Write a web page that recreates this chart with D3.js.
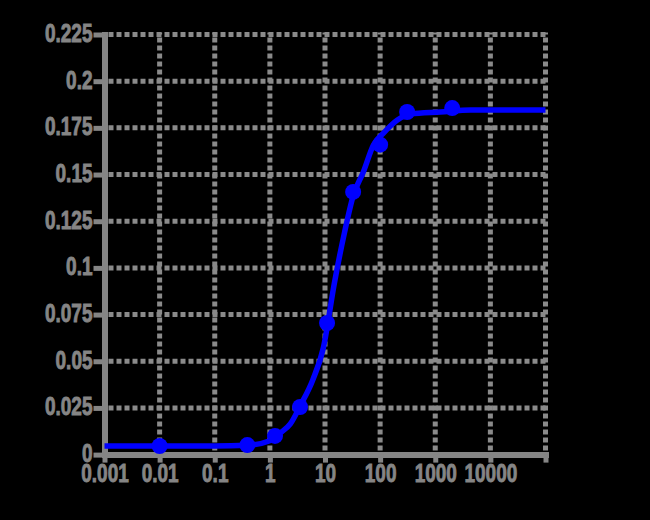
<!DOCTYPE html>
<html>
<head>
<meta charset="utf-8">
<script src="https://cdn.jsdelivr.net/npm/d3@7"></script>
<style>
  html, body { margin: 0; padding: 0; background: #000000; }
  svg { display: block; }
  .tick text { font-family: "Liberation Sans", Arial, sans-serif; font-weight: bold; }
</style>
</head>
<body>
<svg id="chart"></svg>
<script>
// dose response, points + fitted curve
const doses = [0.01, 0.39, 1.24, 3.53, 10.9, 32.4, 100, 309, 2030];
const responses = [0.0046, 0.0051, 0.0100, 0.0255, 0.0705, 0.1407, 0.1660, 0.1835, 0.1856];

const curveX = [0.001, 0.1, 0.386, 0.97, 1.54, 2.35, 3.53, 6.0, 9.4, 14.7, 22.5, 32.4, 49.6, 76, 115, 206, 355, 1240, 4380, 100000];
const curveY = [0.0046, 0.0046, 0.0050, 0.0073, 0.0116, 0.0164, 0.0260, 0.0400, 0.0576, 0.0914, 0.1187, 0.1385, 0.1514, 0.1660, 0.1722, 0.1792, 0.1824, 0.1835, 0.1846, 0.1846];

const xTicks = [0.001, 0.01, 0.1, 1, 10, 100, 1000, 10000, 100000];
const xTickLabels = ["0.001", "0.01", "0.1", "1", "10", "100", "1000", "10000", ""];
const yTicks = [0, 0.025, 0.05, 0.075, 0.1, 0.125, 0.15, 0.175, 0.2, 0.225];
const yTickLabels = ["0", "0.025", "0.05", "0.075", "0.1", "0.125", "0.15", "0.175", "0.2", "0.225"];

const width = 650;
const height = 520;
const marginLeft = 104.5;
const marginRight = 104.5;
const marginTop = 34.5;
const marginBottom = 65.4;

const gray = "#858585";
const gridGray = "#8a8a8a";
const squeeze = 0.76;   // tick labels are narrow and tall

let svg = d3.select("#chart")
    .attr("width", width)
    .attr("height", height);

let xscale = d3.scaleLog()
    .domain([0.001, 100000])
    .range([marginLeft, width - marginRight]);

let yscale = d3.scaleLinear()
    .domain([0, 0.225])
    .range([height - marginBottom, marginTop]);

// dashed grid
const grid = svg.append("g").attr("id", "grid")
    .style("stroke", gridGray)
    .style("stroke-width", 5)
    .style("stroke-dasharray", "5,3");

grid.selectAll("line.h")
    .data(yTicks.slice(1))
    .join("line")
    .attr("class", "h")
    .attr("x1", xscale(0.001) + 4)
    .attr("x2", xscale(100000) + 2)
    .attr("y1", d => yscale(d))
    .attr("y2", d => yscale(d));

grid.selectAll("line.v")
    .data(xTicks.slice(1))
    .join("line")
    .attr("class", "v")
    .attr("y1", yscale(0) - 4)
    .attr("y2", yscale(0.225) - 2)
    .attr("x1", d => xscale(d))
    .attr("x2", d => xscale(d));

// axes
const xAxis = d3.axisBottom(xscale)
    .tickValues(xTicks)
    .tickFormat((d, i) => xTickLabels[i])
    .tickSize(8)
    .tickSizeOuter(0)
    .tickPadding(1.5);

const yAxis = d3.axisLeft(yscale)
    .tickValues(yTicks)
    .tickFormat((d, i) => yTickLabels[i])
    .tickSize(11)
    .tickSizeOuter(0)
    .tickPadding(1);

const axes = svg.append("g").attr("id", "axes");

const gx = axes.append("g").call(xAxis)
    .attr("transform", `translate(${[0, height - marginBottom]})`)
    .attr("font-size", 25);

const gy = axes.append("g").call(yAxis)
    .attr("transform", `translate(${[marginLeft, 0]})`)
    .attr("font-size", 25);

gx.selectAll(".tick text")
    .attr("transform", `scale(${squeeze},1)`);

gy.selectAll(".tick text")
    .attr("x", 0)
    .attr("dy", "0.28em")
    .attr("transform", `translate(-12,0) scale(${squeeze},1)`);

axes.selectAll(".domain")
    .style("stroke", gray)
    .style("stroke-width", 6)
    .style("stroke-linecap", "square");

axes.selectAll(".tick line")
    .style("stroke", gray)
    .style("stroke-width", 5);

// heavier strokes on the labels, they look very bold in the original
axes.selectAll(".tick text")
    .style("fill", gray)
    .style("stroke", gray)
    .style("stroke-width", 0.9);

// fitted curve
const curveData = curveX.map((x, i) => [x, curveY[i]]);

const line = d3.line()
    .x(d => xscale(d[0]))
    .y(d => yscale(d[1]))
    .curve(d3.curveMonotoneX);

svg.append("path")
    .attr("d", line(curveData))
    .style("fill", "none")
    .style("stroke", "#0000ff")
    .style("stroke-width", 5.5)
    .style("stroke-linejoin", "round");

// measured points
svg.append("g").attr("id", "points")
    .selectAll("circle")
    .data(doses)
    .join("circle")
    .attr("cx", d => xscale(d))
    .attr("cy", (d, i) => yscale(responses[i]))
    .attr("r", 8)
    .style("fill", "#0000ff");
</script>
</body>
</html>
